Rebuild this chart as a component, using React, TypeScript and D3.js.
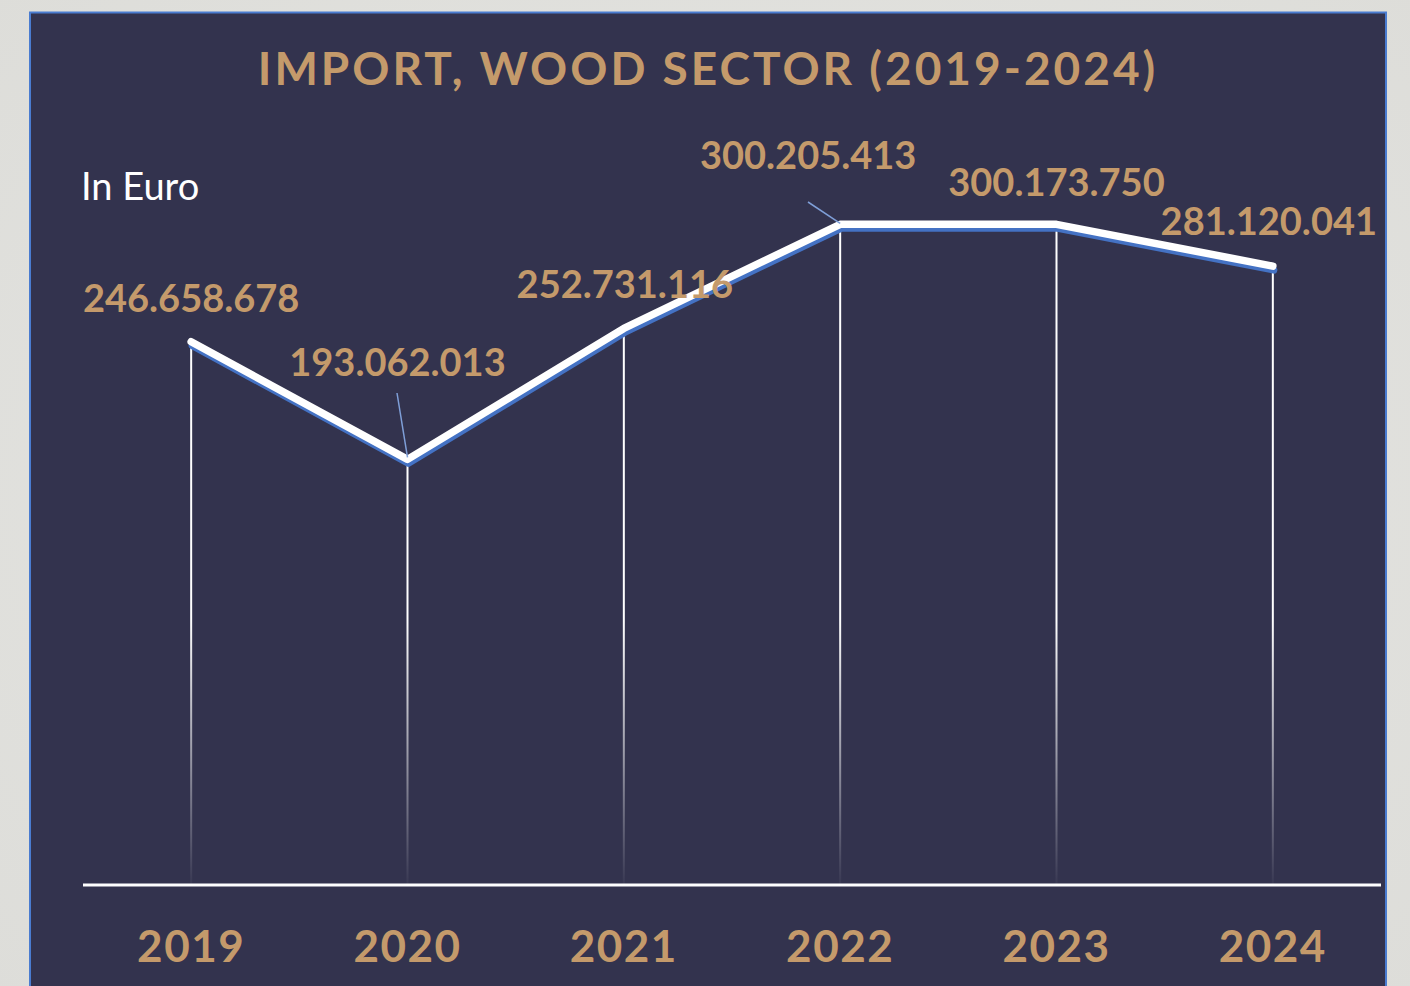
import React from "react";
import * as d3 from "d3";

const width = 1410;
const height = 986;

const years = ["2019", "2020", "2021", "2022", "2023", "2024"];
const imports = [246658678, 193062013, 252731116, 300205413, 300173750, 281120041];
const valueLabels = [
  "246.658.678",
  "193.062.013",
  "252.731.116",
  "300.205.413",
  "300.173.750",
  "281.120.041",
];

// label offsets relative to each point (layout only)
const labelDx = [0, -10, 1, -32, 0, -4];
const labelDy = [-30, -83, -30, -55, -28, -31];

const gold = "#c49a6b";
const panel = "#33334e";
const font = "Lato, 'Open Sans', sans-serif";

export default function App() {
  const x = d3.scaleBand<string>().domain(years).range([83, 1381]);
  const y = d3.scaleLinear().domain([0, 350000000]).range([883, 115]);

  const pts = years.map((yr, i) => ({
    x: (x(yr) as number) + x.bandwidth() / 2,
    y: y(imports[i]),
  }));

  const line = d3
    .line<{ x: number; y: number }>()
    .x((d) => d.x)
    .y((d) => d.y);

  return (
    <svg
      width={width}
      height={height}
      style={{ position: "absolute", left: 0, top: 0, display: "block" }}
    >
      <defs>
        <linearGradient id="drop" gradientUnits="userSpaceOnUse" x1={0} y1={220} x2={0} y2={884}>
          <stop offset="0" stopColor="#ffffff" stopOpacity={1} />
          <stop offset="0.6" stopColor="#ffffff" stopOpacity={1} />
          <stop offset="1" stopColor="#ffffff" stopOpacity={0.03} />
        </linearGradient>
        <radialGradient id="bg" cx="0.5" cy="0.5" r="0.8">
          <stop offset="0" stopColor="#e6e6e3" />
          <stop offset="1" stopColor="#dcdcd8" />
        </radialGradient>
      </defs>
      <rect width={width} height={height} fill="url(#bg)" />
      <rect x={30} y={12.5} width={1356} height={990} fill={panel} stroke="#4a7cd0" strokeWidth={2} />

      <text
        x={708}
        y={85}
        textAnchor="middle"
        fill={gold}
        style={{ fontFamily: font, fontWeight: 700, fontSize: 46, letterSpacing: 3 }}
      >
        IMPORT, WOOD SECTOR (2019-2024)
      </text>

      <text x={81} y={200} fill="#ffffff" style={{ fontFamily: font, fontSize: 38 }}>
        In Euro
      </text>

      {pts.map((p, i) => (
        <line
          key={years[i]}
          x1={p.x}
          x2={p.x}
          y1={p.y}
          y2={884}
          stroke="url(#drop)"
          strokeWidth={2}
        />
      ))}

      <line x1={83} x2={1381} y1={885} y2={885} stroke="#ffffff" strokeWidth={3} />

      <path
        d={line(pts.map((p) => ({ x: p.x + 1, y: p.y + 4 }))) || ""}
        fill="none"
        stroke="#4472c4"
        strokeWidth={7}
        strokeLinecap="round"
        strokeLinejoin="round"
      />
      <path
        d={line(pts) || ""}
        fill="none"
        stroke="#ffffff"
        strokeWidth={7.5}
        strokeLinecap="round"
        strokeLinejoin="round"
      />

      {/* leader lines */}
      <line x1={397} y1={393} x2={pts[1].x} y2={pts[1].y - 2} stroke="#7f9fd8" strokeWidth={1.5} />
      <line x1={808} y1={202} x2={pts[3].x} y2={pts[3].y - 1} stroke="#7f9fd8" strokeWidth={1.5} />

      {pts.map((p, i) => (
        <text
          key={valueLabels[i]}
          x={p.x + labelDx[i]}
          y={p.y + labelDy[i]}
          textAnchor="middle"
          fill={gold}
          style={{ fontFamily: font, fontWeight: 700, fontSize: 38 }}
        >
          {valueLabels[i]}
        </text>
      ))}

      {years.map((yr) => (
        <text
          key={yr}
          x={(x(yr) as number) + x.bandwidth() / 2}
          y={962}
          textAnchor="middle"
          fill={gold}
          style={{ fontFamily: font, fontWeight: 700, fontSize: 44, letterSpacing: 1.5 }}
        >
          {yr}
        </text>
      ))}
    </svg>
  );
}
